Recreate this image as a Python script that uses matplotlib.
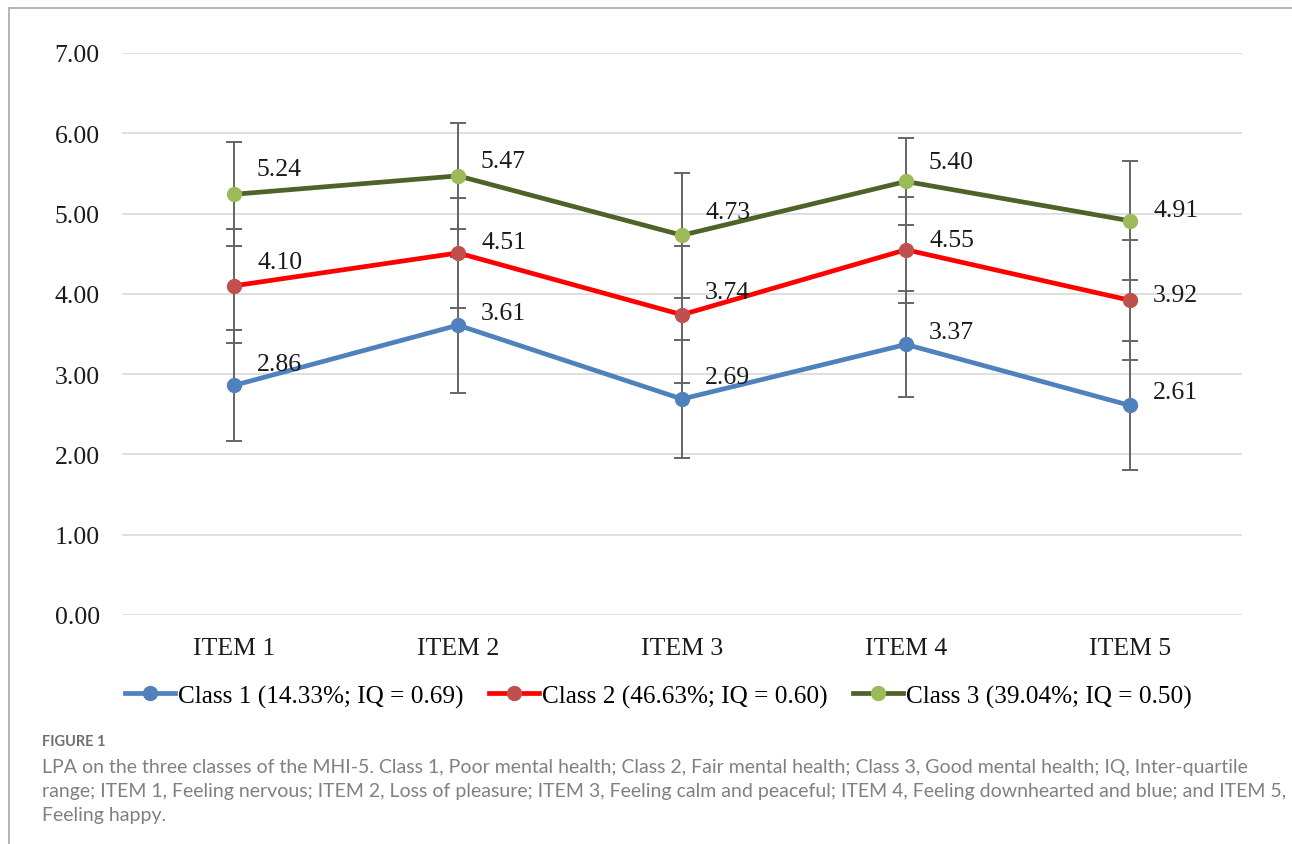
import matplotlib.pyplot as plt
from matplotlib.lines import Line2D

# chart values
items = ["ITEM 1", "ITEM 2", "ITEM 3", "ITEM 4", "ITEM 5"]
class1 = [2.86, 3.61, 2.69, 3.37, 2.61]
class2 = [4.10, 4.51, 3.74, 4.55, 3.92]
class3 = [5.24, 5.47, 4.73, 5.40, 4.91]
class1_err = [0.69, 0.85, 0.73, 0.66, 0.80]
class2_err = [0.71, 0.69, 0.85, 0.66, 0.75]
class3_err = [0.65, 0.66, 0.78, 0.54, 0.74]
legend_labels = [
    "Class 1 (14.33%; IQ = 0.69)",
    "Class 2 (46.63%; IQ = 0.60)",
    "Class 3 (39.04%; IQ = 0.50)",
]
yticks = [0, 1, 2, 3, 4, 5, 6, 7]
caption_title = "FIGURE 1"
caption_lines = [
    "LPA on the three classes of the MHI-5. Class 1, Poor mental health; Class 2, Fair mental health; Class 3, Good mental health; IQ, Inter-quartile",
    "range; ITEM 1, Feeling nervous; ITEM 2, Loss of pleasure; ITEM 3, Feeling calm and peaceful; ITEM 4, Feeling downhearted and blue; and ITEM 5,",
    "Feeling happy.",
]

# styling per series: line colour, marker colour, label y-offsets (pixels)
styles = [
    ("#4F81BD", "#4F81BD", [21, 12, 22, 12, 13]),
    ("#FF0000", "#C0504D", [24, 11, 23, 10, 5]),
    ("#4F6228", "#9BBB59", [25, 15, 23, 19, 11]),
]

W, H = 1292, 845
serif = "Liberation Serif"

fig = plt.figure(figsize=(W / 100, H / 100), dpi=100)
ax = fig.add_axes([122 / W, 1 - 616 / H, 1120 / W, (616 - 54) / H])

x = list(range(len(items)))
series = [class1, class2, class3]
errs = [class1_err, class2_err, class3_err]

for vals, err in zip(series, errs):
    ax.errorbar(x, vals, yerr=err, fmt="none", ecolor="#656565",
                elinewidth=1.4, capsize=5.5, capthick=1.4, zorder=2)

handles = []
for vals, (lc, mc, dys) in zip(series, styles):
    ax.plot(x, vals, color=lc, lw=3.4, zorder=3)
    ax.plot(x, vals, "o", color=mc, ms=10, mec=mc, zorder=4)
    for xi, v, dy in zip(x, vals, dys):
        ax.annotate(f"{v:.2f}", (xi, v), xytext=(23, dy),
                    textcoords="offset pixels", ha="left", va="center",
                    fontsize=18.5, family=serif, color="#1a1a1a", zorder=5)
    handles.append(Line2D([], [], color=lc, lw=3.4, marker="o", ms=10,
                          mfc=mc, mec=mc))

ax.set_xlim(-0.5, len(items) - 0.5)
ax.set_ylim(0, 7)
ax.set_yticks(yticks)
ax.set_yticklabels([f"{t:.2f}" for t in yticks])
ax.set_xticks(x)
ax.set_xticklabels(items)
for lab in ax.get_xticklabels() + ax.get_yticklabels():
    lab.set_family(serif)
    lab.set_fontsize(18.5)
    lab.set_color("#1a1a1a")
ax.tick_params(axis="both", length=0)
ax.tick_params(axis="x", pad=16)
ax.tick_params(axis="y", pad=16)
ax.grid(axis="y", color="#d9d9d9", lw=1.2)
ax.set_axisbelow(True)
for sp in ax.spines.values():
    sp.set_visible(False)

fig.legend(handles, legend_labels, loc="center", ncol=3, frameon=False,
           bbox_to_anchor=(658 / W, 1 - 697 / H),
           prop={"family": serif, "size": 18.2},
           handlelength=2.0, handletextpad=0.1, columnspacing=1.0)

# border lines of the figure panel
fig.add_artist(Line2D([9 / W, 9 / W], [0, 1 - 9 / H], transform=fig.transFigure,
                      color="#b0b0b0", lw=1.3))
fig.add_artist(Line2D([9 / W, 1], [1 - 9 / H, 1 - 9 / H], transform=fig.transFigure,
                      color="#b0b0b0", lw=1.3))

fig.text(42 / W, 1 - 742 / H, caption_title, fontsize=10.5, family="Lato",
         weight="bold", color="#707070", va="center")
for i, line in enumerate(caption_lines):
    fig.text(42 / W, 1 - (768 + 24 * i) / H, line, fontsize=14, family="Lato",
             color="#808080", va="center")

fig.savefig("out.png", dpi=100)
